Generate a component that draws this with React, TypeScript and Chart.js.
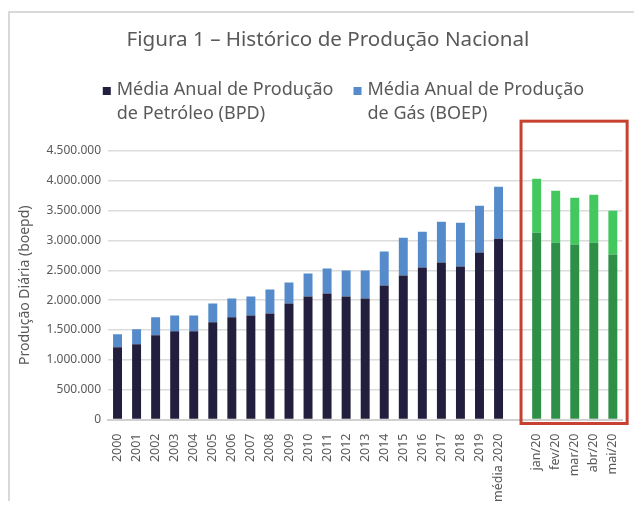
import React, { useEffect, useRef } from 'react';
import { Chart, registerables } from 'chart.js';

Chart.register(...registerables);

const titleText = 'Figura 1 – Histórico de Produção Nacional';
const yAxisTitle = 'Produção Diária (boepd)';

const years = [
  '2000', '2001', '2002', '2003', '2004', '2005', '2006', '2007', '2008', '2009',
  '2010', '2011', '2012', '2013', '2014', '2015', '2016', '2017', '2018', '2019', 'média 2020',
];
const yearOil = [
  1210000, 1261000, 1411000, 1478000, 1478000, 1628000, 1712000, 1745000, 1778000, 1945000,
  2062000, 2112000, 2062000, 2029000, 2246000, 2413000, 2546000, 2630000, 2563000, 2797000, 3031000,
];
const yearGas = [
  218000, 250000, 301000, 267000, 267000, 317000, 317000, 317000, 401000, 351000,
  384000, 418000, 434000, 467000, 568000, 634000, 602000, 685000, 735000, 785000, 868000,
];

const months = ['jan/20', 'fev/20', 'mar/20', 'abr/20', 'mai/20'];
const monthOil = [3131000, 2964000, 2931000, 2964000, 2764000];
const monthGas = [902000, 868000, 784000, 801000, 734000];

const legendOil = ['Média Anual de Produção', 'de Petróleo (BPD)'];
const legendGas = ['Média Anual de Produção', 'de Gás (BOEP)'];

const yMax = 4500000;
const yStep = 500000;

const FONT = '"Noto Sans", Lato, sans-serif';
const GRAY = '#595959';

function fmt(v: number): string {
  return String(Math.round(v)).replace(/\B(?=(\d{3})+(?!\d))/g, '.');
}

export default function App() {
  const ref = useRef<HTMLCanvasElement | null>(null);

  useEffect(() => {
    if (!ref.current) return;
    const gap = [null];
    const labels = [...years, '', ...months];
    const blankMonths = months.map(() => null);
    const blankYears = years.map(() => null);
    const legendItems = [
      { lines: legendOil, datasetIndex: 0 },
      { lines: legendGas, datasetIndex: 1 },
    ];

    const titleShift = {
      id: 'titleShift',
      afterLayout(chart: any) {
        const t = chart.titleBlock;
        if (t) {
          t.left += 10;
          t.right += 10;
        }
      },
    };

    const twoLineLegend = {
      id: 'twoLineLegend',
      afterDraw(chart: any) {
        const ctx = chart.ctx;
        const size = 18;
        const lineH = 24;
        const box = 8;
        const boxGap = 6;
        const itemGap = 20;
        ctx.save();
        ctx.font = `normal ${size}px ${FONT}`;
        ctx.textBaseline = 'middle';
        ctx.textAlign = 'left';
        const widths = legendItems.map((it) =>
          Math.max(...it.lines.map((l) => ctx.measureText(l).width)) + box + boxGap,
        );
        const total = widths.reduce((a, b) => a + b, 0) + itemGap * (widths.length - 1);
        const center = chart.width / 2 + 21.5;
        let x = center - total / 2;
        const y0 = 77;
        legendItems.forEach((it, i) => {
          const ds = chart.data.datasets[it.datasetIndex];
          ctx.fillStyle = ds.backgroundColor;
          ctx.fillRect(x, y0 - box / 2 + 1, box, box);
          ctx.fillStyle = GRAY;
          it.lines.forEach((l, j) => {
            ctx.fillText(l, x + box + boxGap, y0 + j * lineH);
          });
          x += widths[i] + itemGap;
        });
        ctx.restore();
      },
    };

    const highlightBox = {
      id: 'highlightBox',
      afterDatasetsDraw(chart: any) {
        const x = chart.scales.x;
        const y = chart.scales.y;
        const first = labels.indexOf(months[0]);
        const last = labels.indexOf(months[months.length - 1]);
        const step = x.getPixelForValue(first + 1) - x.getPixelForValue(first);
        const left = x.getPixelForValue(first) - step * 0.82;
        const right = x.getPixelForValue(last) + step * 0.75;
        const top = y.getPixelForValue(5000000);
        const bottom = y.getPixelForValue(0) + 4;
        const ctx = chart.ctx;
        ctx.save();
        ctx.strokeStyle = '#c8402f';
        ctx.lineWidth = 3;
        ctx.strokeRect(left, top, right - left, bottom - top);
        ctx.restore();
      },
    };

    const chart = new Chart(ref.current, {
      type: 'bar',
      data: {
        labels,
        datasets: [
          {
            label: legendOil.join(' '),
            data: [...yearOil, ...gap, ...blankMonths],
            backgroundColor: '#221f3e',
            stack: 's',
          },
          {
            label: legendGas.join(' '),
            data: [...yearGas, ...gap, ...blankMonths],
            backgroundColor: '#558bcb',
            stack: 's',
          },
          {
            label: 'Petróleo 2020',
            data: [...blankYears, ...gap, ...monthOil],
            backgroundColor: '#2e8f47',
            stack: 's',
          },
          {
            label: 'Gás 2020',
            data: [...blankYears, ...gap, ...monthGas],
            backgroundColor: '#42c85f',
            stack: 's',
          },
        ],
      },
      options: {
        animation: false,
        responsive: true,
        maintainAspectRatio: false,
        layout: { padding: { left: 0, right: 8, top: 0, bottom: 0 } },
        datasets: {
          bar: { barPercentage: 0.47, categoryPercentage: 1 },
        },
        plugins: {
          title: {
            display: true,
            text: titleText,
            color: GRAY,
            font: { family: FONT, size: 20.6, weight: 'normal', lineHeight: 24 / 20.6 },
            padding: { top: 15, bottom: 99 },
          },
          legend: { display: false },
          tooltip: { enabled: false },
        },
        scales: {
          x: {
            stacked: true,
            grid: { display: false },
            border: { display: true, color: '#d0d0d0', width: 2 },
            ticks: {
              color: GRAY,
              font: { family: FONT, size: 12.5 },
              minRotation: 90,
              maxRotation: 90,
              autoSkip: false,
              padding: 6,
            },
            afterFit: (s: any) => {
              s.height = 81.5;
            },
          },
          y: {
            stacked: true,
            min: 0,
            max: yMax,
            border: { display: false },
            grid: { color: '#dcdcdc', lineWidth: 1.5, drawTicks: false },
            ticks: {
              stepSize: yStep,
              color: GRAY,
              font: { family: FONT, size: 12 },
              padding: 7,
              callback: (v: any) => fmt(Number(v)),
            },
            title: {
              display: true,
              text: yAxisTitle,
              color: GRAY,
              font: { family: FONT, size: 14, lineHeight: 1.2 },
              padding: { top: 6.6, bottom: 0 },
            },
            afterFit: (s: any) => {
              s.width = 98;
            },
          },
        },
      },
      plugins: [titleShift, twoLineLegend, highlightBox],
    });

    return () => chart.destroy();
  }, []);

  return (
    <div style={{ paddingTop: 3 }}>
      <div
        style={{
          boxSizing: 'border-box',
          width: 626,
          height: 490,
          borderLeft: '2px solid #d9d9d9',
          borderTop: '2px solid #d9d9d9',
          position: 'relative',
          background: '#ffffff',
        }}
      >
        <canvas ref={ref} />
      </div>
    </div>
  );
}
